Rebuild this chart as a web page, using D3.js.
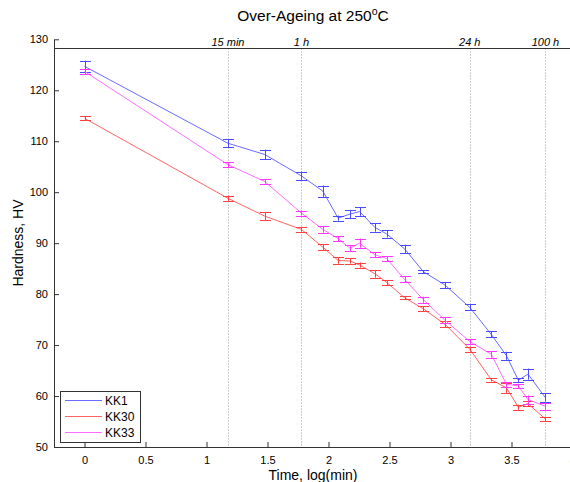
<!DOCTYPE html>
<html><head><meta charset="utf-8">
<script src="https://cdn.jsdelivr.net/npm/d3@7"></script>
<style>
body{margin:0;background:#fff;}
text{font-family:"Liberation Sans",Arial,sans-serif;fill:#000;}
</style></head>
<body><svg id="chart" width="570" height="482"></svg>
<script>
// log10(time in minutes)
const logTime = [0, 1.176, 1.477, 1.778, 1.954, 2.079, 2.176, 2.255, 2.380, 2.477, 2.623, 2.778, 2.954, 3.158, 3.334, 3.459, 3.556, 3.635, 3.778];
const kk1 = [124.7, 109.6, 107.4, 103.2, 100.2, 94.9, 95.7, 96.2, 93.1, 91.8, 88.9, 84.4, 81.8, 77.4, 72.1, 67.9, 63.1, 64.3, 59.7];
const kk1Err = [1.1, 0.8, 0.95, 0.85, 1.1, 0.5, 0.85, 0.85, 0.85, 0.7, 0.8, 0.3, 0.6, 0.6, 0.6, 0.8, 0.4, 1.1, 0.8];
const kk30 = [114.5, 98.8, 95.3, 92.7, 89.2, 86.6, 86.5, 85.7, 84.0, 82.3, 79.3, 77.1, 74.1, 69.2, 63.2, 61.6, 57.8, 58.5, 55.5];
const kk30Err = [0.4, 0.5, 0.75, 0.45, 0.6, 0.65, 0.5, 0.5, 0.75, 0.5, 0.3, 0.5, 0.6, 0.5, 0.35, 1.0, 0.5, 0.45, 0.45];
const kk33 = [123.7, 105.4, 102.1, 95.9, 92.7, 90.9, 89.0, 90.0, 87.7, 87.0, 82.9, 78.9, 74.9, 70.7, 68.2, 62.3, 62.0, 59.3, 58.0];
const kk33Err = [0.5, 0.45, 0.45, 0.5, 0.65, 0.5, 0.55, 0.9, 0.5, 0.5, 0.6, 0.6, 0.6, 0.45, 0.65, 0.5, 0.4, 0.8, 0.7];
const seriesNames = ["KK1", "KK30", "KK33"];
const xTicks = [0, 0.5, 1, 1.5, 2, 2.5, 3, 3.5, 4];
const yTicks = [50, 60, 70, 80, 90, 100, 110, 120, 130];
const topTickPos = [1.176, 1.778, 3.158, 3.778];
const topTickLabels = ["15 min", "1 h", "24 h", "100 h"];

const series = [
  {name: seriesNames[0], y: kk1, e: kk1Err, line: "#6b6bff", bar: "#4a4aff"},
  {name: seriesNames[1], y: kk30, e: kk30Err, line: "#ff6464", bar: "#ff4040"},
  {name: seriesNames[2], y: kk33, e: kk33Err, line: "#ff6cff", bar: "#ff36ff"}
];

const svg = d3.select("#chart");
const L = 54, R = 572.5, T = 39.3, B = 447;
const x = d3.scaleLinear().domain([-0.25, 4]).range([L, R]);
const y = d3.scaleLinear().domain([50, 130]).range([B, T]);
const topY = 48.5;

// dotted grid for top axis
svg.append("g").selectAll("line").data(topTickPos).join("line")
  .attr("x1", d => Math.round(x(d)) + 0.5).attr("x2", d => Math.round(x(d)) + 0.5)
  .attr("y1", topY).attr("y2", B)
  .attr("stroke", "#9a9a9a").attr("stroke-width", 1).attr("stroke-dasharray", "1,2");

// top axis line + labels
svg.append("line").attr("x1", L).attr("x2", 570).attr("y1", topY).attr("y2", topY)
  .attr("stroke", "#333").attr("stroke-width", 1);
svg.append("g").selectAll("text").data(topTickPos).join("text")
  .attr("x", d => x(d)).attr("y", 45.5).attr("text-anchor", "middle")
  .attr("font-size", 11).attr("font-style", "italic")
  .text((d, i) => topTickLabels[i]);

// bottom axis
const xAxis = d3.axisBottom(x).tickValues(xTicks).tickSizeInner(-5).tickSizeOuter(0)
  .tickFormat(d => d3.format("")(d));
const gx = svg.append("g").attr("transform", `translate(0,${B})`).call(xAxis);
gx.select(".domain").attr("stroke", "#333");
gx.selectAll(".tick line").attr("stroke", "#333");
gx.selectAll(".tick text").attr("font-size", 11).attr("y", 9).attr("dy", "0.71em")
  .attr("font-family", "Liberation Sans, Arial, sans-serif");

// left axis
const yAxis = d3.axisLeft(y).tickValues(yTicks).tickSizeInner(-5).tickSizeOuter(0);
const gy = svg.append("g").attr("transform", `translate(${L},0)`).call(yAxis);
gy.select(".domain").attr("stroke", "#333");
gy.selectAll(".tick line").attr("stroke", "#333");
gy.selectAll(".tick text").attr("font-size", 11).attr("x", -6)
  .attr("font-family", "Liberation Sans, Arial, sans-serif");

// series
const lineGen = d3.line().x((d, i) => x(logTime[i])).y(d => y(d));
series.forEach(s => {
  const g = svg.append("g");
  g.append("path").datum(s.y).attr("d", lineGen)
    .attr("fill", "none").attr("stroke", s.line).attr("stroke-width", 1);
  const eb = g.selectAll("g.eb").data(s.y).join("g").attr("class", "eb");
  eb.append("line")
    .attr("x1", (d, i) => Math.round(x(logTime[i])) + 0.5).attr("x2", (d, i) => Math.round(x(logTime[i])) + 0.5)
    .attr("y1", (d, i) => y(d + s.e[i])).attr("y2", (d, i) => y(d - s.e[i]))
    .attr("stroke", s.bar).attr("stroke-width", 1);
  [1, -1].forEach(sg => {
    eb.append("line")
      .attr("x1", (d, i) => Math.round(x(logTime[i])) - 5).attr("x2", (d, i) => Math.round(x(logTime[i])) + 6)
      .attr("y1", (d, i) => Math.round(y(d + sg * s.e[i])) + 0.5)
      .attr("y2", (d, i) => Math.round(y(d + sg * s.e[i])) + 0.5)
      .attr("stroke", s.bar).attr("stroke-width", 1);
  });
});

// legend
const lg = svg.append("g");
lg.append("rect").attr("x", 60.5).attr("y", 391.5).attr("width", 80).attr("height", 51)
  .attr("fill", "#fff").attr("stroke", "#333").attr("stroke-width", 1);
series.forEach((s, i) => {
  const cy = 400.5 + i * 16;
  lg.append("line").attr("x1", 65).attr("x2", 102).attr("y1", cy).attr("y2", cy)
    .attr("stroke", s.line).attr("stroke-width", 1);
  lg.append("text").attr("x", 105).attr("y", cy).attr("dy", "0.36em")
    .attr("font-size", 12).text(s.name);
});

// title
const title = svg.append("text").attr("x", 313).attr("y", 21).attr("text-anchor", "middle")
  .attr("font-size", 15.5);
title.append("tspan").text("Over-Ageing at 250");
title.append("tspan").attr("dy", -6).attr("font-size", 10.5).text("o");
title.append("tspan").attr("dy", 6).text("C");

// axis titles
svg.append("text").attr("x", 313).attr("y", 480).attr("text-anchor", "middle")
  .attr("font-size", 14).text("Time, log(min)");
svg.append("text").attr("transform", `translate(23,243) rotate(-90)`)
  .attr("text-anchor", "middle").attr("font-size", 14).text("Hardness, HV");
</script></body></html>
